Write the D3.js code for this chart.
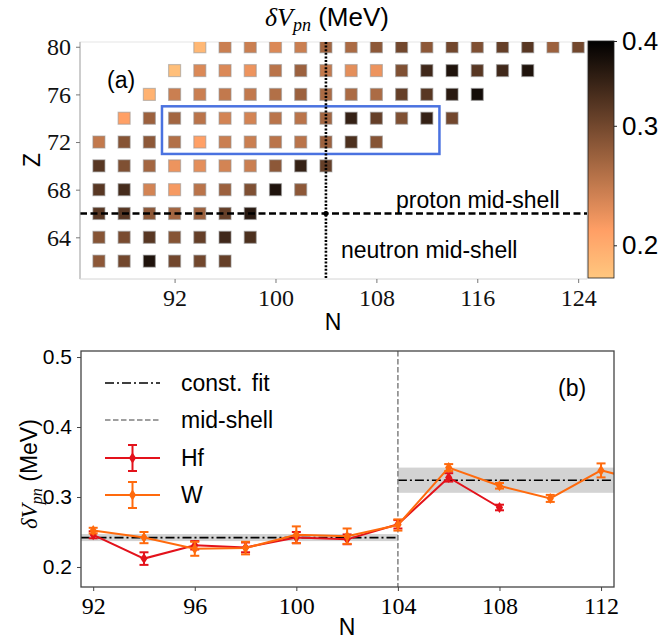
<!DOCTYPE html>
<html>
<head>
<meta charset="utf-8">
<script src="https://cdn.jsdelivr.net/npm/d3@7"></script>
<style>
  body { margin: 0; background: #fff; }
  svg { display: block; }
</style>
</head>
<body>
<svg id="chart" width="659" height="642"></svg>
<script>
// ---------------- data: panel (a) ----------------
const zRows = [80, 78, 76, 74, 72, 70, 68, 66, 64, 62];
const nFirst = [94, 92, 90, 88, 86, 86, 86, 86, 86, 86];
const dvpnRows = [
  [0.19, 0.24, 0.24, 0.23, 0.24, 0.265, 0.26, 0.28, 0.30, 0.28, 0.30, 0.29, 0.31, 0.32, 0.27, 0.30],
  [0.185, 0.23, 0.23, 0.22, 0.25, 0.27, 0.245, 0.225, 0.22, 0.29, 0.34, 0.37, 0.32, 0.34, 0.37],
  [0.195, 0.24, 0.24, 0.245, 0.245, 0.255, 0.27, 0.26, 0.26, 0.26, 0.31, 0.32, 0.36, 0.38],
  [0.21, 0.27, 0.265, 0.25, 0.235, 0.235, 0.25, 0.25, 0.265, 0.35, 0.31, 0.29, 0.35, 0.30],
  [0.245, 0.285, 0.28, 0.255, 0.21, 0.24, 0.24, 0.25, 0.25, 0.27, 0.33, 0.285],
  [0.32, 0.29, 0.265, 0.22, 0.225, 0.235, 0.24, 0.28, 0.35, 0.31],
  [0.32, 0.335, 0.235, 0.215, 0.25, 0.27, 0.29, 0.37, 0.28],
  [0.32, 0.32, 0.28, 0.265, 0.27, 0.31, 0.36],
  [0.285, 0.295, 0.32, 0.285, 0.31, 0.34, 0.33],
  [0.28, 0.30, 0.37, 0.30, 0.30, 0.31]
];
const topXTicks = [92, 100, 108, 116, 124];
const topYTicks = [64, 68, 72, 76, 80];
const cbarTicks = [0.2, 0.3, 0.4];
const cbarRange = [0.179, 0.4];
const neutronMid = 104, protonMid = 66;
const boxN = [91, 113], boxZ = [71, 75];

// ---------------- data: panel (b) ----------------
const nHf = [92, 94, 96, 98, 100, 102, 104, 106, 108];
const hfVal = [0.246, 0.212, 0.231, 0.228, 0.242, 0.2395, 0.261, 0.328, 0.285];
const hfErr = [0.005, 0.009, 0.006, 0.007, 0.008, 0.007, 0.006, 0.006, 0.004];
const nW = [92, 94, 96, 98, 100, 102, 104, 106, 108, 110, 112, 114];
const wVal = [0.252, 0.242, 0.226, 0.227, 0.246, 0.244, 0.260, 0.342, 0.316, 0.298, 0.338, 0.32];
const wErr = [0.004, 0.008, 0.010, 0.009, 0.012, 0.011, 0.008, 0.005, 0.004, 0.005, 0.010, 0.005];
const fitN = [[91.5, 104], [104, 112.5]];
const fitVal = [0.242, 0.324];
const fitErr = [0.005, 0.018];
const botXTicks = [92, 96, 100, 104, 108, 112];
const botYTicks = [0.2, 0.3, 0.4, 0.5];

const hfColor = "#e3121b", wColor = "#ff6a0d";
const SANS = "'Liberation Sans', Arial, sans-serif";
const SERIF = "'Liberation Serif', 'DejaVu Serif', serif";

const svg = d3.select("#chart");
const defs = svg.append("defs");

// copper_r colormap on a log norm
const norm = d3.scaleLog().domain(cbarRange).range([1, 0]).clamp(true);
function copper(x) {
  return d3.rgb(Math.min(1, 1.25 * x) * 255, 0.7812 * x * 255, 0.4975 * x * 255);
}
const colorOf = v => copper(norm(v));

// ================= panel (a) =================
const A = { left: 80, right: 587, top: 42, bottom: 279 };
const xN = d3.scaleLinear().domain([84.5, 124.7]).range([A.left, A.right]);
const yZ = d3.scaleLinear().domain([60.5, 80.4]).range([A.bottom, A.top]);

defs.append("clipPath").attr("id", "clipA")
  .append("rect").attr("x", A.left).attr("y", A.top)
  .attr("width", A.right - A.left).attr("height", A.bottom - A.top);

svg.append("rect")
  .attr("x", A.left).attr("y", A.top)
  .attr("width", A.right - A.left).attr("height", A.bottom - A.top)
  .attr("fill", "none").attr("stroke", "#e6e6e6");

const cells = [];
zRows.forEach((z, i) => {
  dvpnRows[i].forEach((v, j) => cells.push({ z, n: nFirst[i] + 2 * j, v }));
});

const gA = svg.append("g").attr("clip-path", "url(#clipA)");
const sq = 12;
gA.selectAll("rect.cell").data(cells).enter().append("rect")
  .attr("class", "cell")
  .attr("x", d => xN(d.n) - sq / 2)
  .attr("y", d => yZ(d.z) - sq / 2)
  .attr("width", sq).attr("height", sq)
  .attr("fill", d => colorOf(d.v))
  .attr("stroke", "rgba(150,150,150,0.55)")
  .attr("stroke-width", 1.2);

// blue box
gA.append("rect")
  .attr("x", xN(boxN[0])).attr("y", yZ(boxZ[1]))
  .attr("width", xN(boxN[1]) - xN(boxN[0]))
  .attr("height", yZ(boxZ[0]) - yZ(boxZ[1]))
  .attr("fill", "none").attr("stroke", "#4a72e0").attr("stroke-width", 2.5);

// mid-shell lines
gA.append("line")
  .attr("x1", A.left).attr("x2", A.right)
  .attr("y1", yZ(protonMid)).attr("y2", yZ(protonMid))
  .attr("stroke", "#000").attr("stroke-width", 2.6)
  .attr("stroke-dasharray", "7,3.5");
gA.append("line")
  .attr("x1", xN(neutronMid)).attr("x2", xN(neutronMid))
  .attr("y1", A.top).attr("y2", A.bottom)
  .attr("stroke", "#000").attr("stroke-width", 2.6)
  .attr("stroke-dasharray", "2,1.6");
gA.append("circle")
  .attr("cx", xN(neutronMid)).attr("cy", yZ(protonMid)).attr("r", 2.5)
  .attr("fill", "#000");

// spines
svg.append("line").attr("x1", A.left).attr("x2", A.left)
  .attr("y1", A.top).attr("y2", A.bottom).attr("stroke", "#a8a8a8");
svg.append("line").attr("x1", A.left).attr("x2", A.right)
  .attr("y1", A.bottom).attr("y2", A.bottom).attr("stroke", "#e0e0e0");

// axes
const axA_x = svg.append("g").attr("transform", `translate(0,${A.bottom})`)
  .call(d3.axisBottom(xN).tickValues(topXTicks).tickSize(4).tickPadding(6));
const axA_y = svg.append("g").attr("transform", `translate(${A.left},0)`)
  .call(d3.axisLeft(yZ).tickValues(topYTicks).tickSize(4).tickPadding(5));
[axA_x, axA_y].forEach(g => {
  g.select(".domain").remove();
  g.attr("font-family", null).attr("font-size", null);
  g.selectAll(".tick line").attr("stroke", "#777");
  g.selectAll(".tick text").style("font-family", SERIF).style("font-size", "24px")
    .attr("fill", "#111");
});

// labels panel (a)
function label(x, y, txt, size, anchor) {
  return svg.append("text").attr("x", x).attr("y", y)
    .attr("text-anchor", anchor || "start")
    .style("font-family", SANS).style("font-size", size + "px").text(txt);
}
label(107, 88, "(a)", 23);
label(396, 208, "proton mid-shell", 23);
label(341, 258, "neutron mid-shell", 23);
label(333, 330, "N", 23, "middle");
svg.append("text")
  .attr("transform", "translate(40,160) rotate(-90)")
  .attr("text-anchor", "middle")
  .style("font-family", SANS).style("font-size", "23px").text("Z");

// title
const title = svg.append("text").attr("x", 265).attr("y", 26).style("font-size", "26px");
title.append("tspan").style("font-family", SERIF).style("font-style", "italic").text("δV");
title.append("tspan").style("font-family", SERIF).style("font-style", "italic")
  .style("font-size", "18px").attr("dy", 5).text("pn");
title.append("tspan").style("font-family", SANS).attr("dy", -5).text(" (MeV)");

// colorbar
const C = { x: 588, w: 26, top: 41, bottom: 278 };
const yC = d3.scaleLog().domain(cbarRange).range([C.bottom, C.top]);
const grad = defs.append("linearGradient").attr("id", "cbar")
  .attr("x1", 0).attr("x2", 0).attr("y1", 1).attr("y2", 0);
d3.range(0, 1.0001, 0.02).forEach(t => {
  const v = yC.invert(C.bottom - t * (C.bottom - C.top));
  grad.append("stop").attr("offset", t).attr("stop-color", colorOf(v));
});
svg.append("rect").attr("x", C.x).attr("y", C.top)
  .attr("width", C.w).attr("height", C.bottom - C.top)
  .attr("fill", "url(#cbar)").attr("stroke", "#222").attr("stroke-width", 0.8);
const axC = svg.append("g").attr("transform", `translate(${C.x + C.w},0)`)
  .call(d3.axisRight(yC).tickValues(cbarTicks).tickFormat(d3.format(".1f"))
    .tickSize(3).tickPadding(5));
axC.select(".domain").remove();
axC.selectAll(".tick line").attr("stroke", "#222");
axC.selectAll(".tick text").style("font-family", SANS).style("font-size", "26px").attr("fill", "#000");

// ================= panel (b) =================
const B = { left: 81, right: 614, top: 351, bottom: 587 };
const xB = d3.scaleLinear().domain([91.52, 112.51]).range([B.left, B.right]);
const yB = d3.scaleLinear().domain([0.1714, 0.5086]).range([B.bottom, B.top]);

defs.append("clipPath").attr("id", "clipB")
  .append("rect").attr("x", B.left).attr("y", B.top)
  .attr("width", B.right - B.left).attr("height", B.bottom - B.top);
const gB = svg.append("g").attr("clip-path", "url(#clipB)");

// const fit bands + lines
fitN.forEach((r, i) => {
  gB.append("rect")
    .attr("x", xB(r[0])).attr("width", xB(r[1]) - xB(r[0]))
    .attr("y", yB(fitVal[i] + fitErr[i]))
    .attr("height", yB(fitVal[i] - fitErr[i]) - yB(fitVal[i] + fitErr[i]))
    .attr("fill", "#d3d3d3");
});
fitN.forEach((r, i) => {
  gB.append("line")
    .attr("x1", xB(r[0])).attr("x2", xB(r[1]))
    .attr("y1", yB(fitVal[i])).attr("y2", yB(fitVal[i]))
    .attr("stroke", "#000").attr("stroke-width", 1.6)
    .attr("stroke-dasharray", "9,3,2,3");
});
// mid-shell
gB.append("line")
  .attr("x1", xB(neutronMid)).attr("x2", xB(neutronMid))
  .attr("y1", B.top).attr("y2", B.bottom)
  .attr("stroke", "#808080").attr("stroke-width", 1.5)
  .attr("stroke-dasharray", "5.5,2.5");

const diamond = "M0,-5.5L3.6,0L0,5.5L-3.6,0Z";
function series(g, ns, vals, errs, color) {
  const pts = ns.map((n, i) => ({ n, v: vals[i], e: errs[i] }));
  g.append("path").datum(pts)
    .attr("fill", "none").attr("stroke", color).attr("stroke-width", 2)
    .attr("d", d3.line().x(d => xB(d.n)).y(d => yB(d.v)));
  const eb = g.selectAll(null).data(pts).enter().append("g")
    .attr("stroke", color).attr("stroke-width", 2);
  eb.append("line").attr("x1", d => xB(d.n)).attr("x2", d => xB(d.n))
    .attr("y1", d => yB(d.v - d.e)).attr("y2", d => yB(d.v + d.e));
  [1, -1].forEach(s => {
    eb.append("line").attr("x1", d => xB(d.n) - 4.5).attr("x2", d => xB(d.n) + 4.5)
      .attr("y1", d => yB(d.v + s * d.e)).attr("y2", d => yB(d.v + s * d.e));
  });
  g.selectAll(null).data(pts).enter().append("path")
    .attr("d", diamond).attr("fill", color)
    .attr("transform", d => `translate(${xB(d.n)},${yB(d.v)})`);
}
series(gB, nHf, hfVal, hfErr, hfColor);
series(gB, nW, wVal, wErr, wColor);

// frame
svg.append("rect").attr("x", B.left).attr("y", B.top)
  .attr("width", B.right - B.left).attr("height", B.bottom - B.top)
  .attr("fill", "none").attr("stroke", "#444").attr("stroke-width", 1.3);

const axB_x = svg.append("g").attr("transform", `translate(0,${B.bottom})`)
  .call(d3.axisBottom(xB).tickValues(botXTicks).tickSize(4).tickPadding(6));
const axB_y = svg.append("g").attr("transform", `translate(${B.left},0)`)
  .call(d3.axisLeft(yB).tickValues(botYTicks).tickFormat(d3.format(".1f"))
    .tickSize(4).tickPadding(5));
[axB_x, axB_y].forEach(g => {
  g.select(".domain").remove();
  g.attr("font-family", null).attr("font-size", null);
  g.selectAll(".tick line").attr("stroke", "#444");
  g.selectAll(".tick text").attr("fill", "#000");
});
axB_x.selectAll(".tick text").style("font-family", SERIF).style("font-size", "24px");
axB_y.selectAll(".tick text").style("font-family", SANS).style("font-size", "21px");

// legend
const lg = svg.append("g");
const lx0 = 105, lx1 = 160, ltx = 181;
const legendRows = [
  { y: 383, label: "const. fit", kind: "fit" },
  { y: 420, label: "mid-shell", kind: "mid" },
  { y: 458, label: "Hf", kind: "data", color: hfColor },
  { y: 495, label: "W", kind: "data", color: wColor }
];
legendRows.forEach(r => {
  if (r.kind === "fit") {
    lg.append("line").attr("x1", lx0).attr("x2", lx1).attr("y1", r.y).attr("y2", r.y)
      .attr("stroke", "#000").attr("stroke-width", 1.6).attr("stroke-dasharray", "9,3,2,3");
  } else if (r.kind === "mid") {
    lg.append("line").attr("x1", lx0).attr("x2", lx1).attr("y1", r.y).attr("y2", r.y)
      .attr("stroke", "#808080").attr("stroke-width", 1.5).attr("stroke-dasharray", "5.5,2.5");
  } else {
    const cx = (lx0 + lx1) / 2;
    lg.append("line").attr("x1", lx0).attr("x2", lx1).attr("y1", r.y).attr("y2", r.y)
      .attr("stroke", r.color).attr("stroke-width", 2);
    lg.append("line").attr("x1", cx).attr("x2", cx).attr("y1", r.y - 13).attr("y2", r.y + 13)
      .attr("stroke", r.color).attr("stroke-width", 2);
    [-13, 13].forEach(dy => lg.append("line").attr("x1", cx - 4.5).attr("x2", cx + 4.5)
      .attr("y1", r.y + dy).attr("y2", r.y + dy).attr("stroke", r.color).attr("stroke-width", 2));
    lg.append("path").attr("d", diamond).attr("fill", r.color)
      .attr("transform", `translate(${cx},${r.y})`);
  }
  lg.append("text").attr("x", ltx).attr("y", r.y + 8)
    .style("font-family", SANS).style("font-size", "23px")
    .attr("word-spacing", 3).text(r.label);
});

label(558, 396, "(b)", 23);
label(347, 635, "N", 23, "middle");

const yl = svg.append("text").attr("transform", "translate(37,474) rotate(-90)")
  .attr("text-anchor", "middle").style("font-size", "23px");
yl.append("tspan").style("font-family", SERIF).style("font-style", "italic").text("δV");
yl.append("tspan").style("font-family", SERIF).style("font-style", "italic")
  .style("font-size", "16px").attr("dy", 5).text("pn");
yl.append("tspan").style("font-family", SANS).attr("dy", -5).text(" (MeV)");
</script>
</body>
</html>
